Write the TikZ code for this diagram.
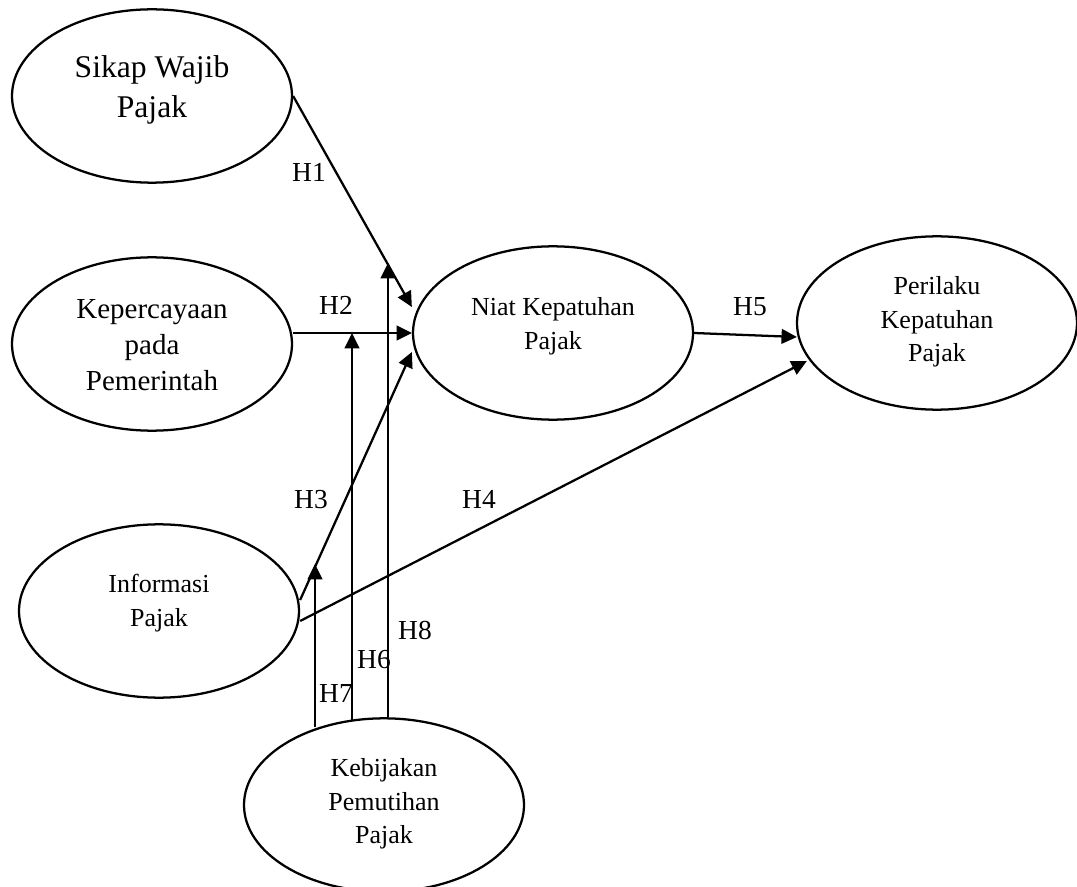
\documentclass[tikz,border=0pt]{standalone}
\usepackage{fontspec}
\setmainfont{Liberation Serif}
\usetikzlibrary{arrows.meta,shapes.geometric,calc}
\begin{document}
\begin{tikzpicture}[x=0.75pt,y=-0.75pt,
  latent/.style={draw,ellipse,line width=1.7pt,minimum width=210pt,minimum height=130pt,inner sep=0pt},
  arr/.style={line width=1.7pt,-{Triangle[length=11.5pt,width=11pt]}},
  lab/.style={font=\fontsize{20.6pt}{24pt}\selectfont,inner sep=0pt},
  txt/.style={align=center,inner sep=0pt,font=\fontsize{19.5pt}{25.2pt}\selectfont}]
\useasboundingbox (0,0) rectangle (1077,887);
% ellipses
\node[latent] (sikap) at (152,96) {};
\node[latent] (keper) at (152,344) {};
\node[latent] (info) at (159,611) {};
\node[latent] (niat) at (553,333) {};
\node[latent] (peri) at (937,323) {};
\node[latent] (kebij) at (384,805) {};
% texts
\node[txt,font=\fontsize{23.7pt}{30pt}\selectfont] (sikapT) at (152,90) {Sikap Wajib\\Pajak};
\node[txt,font=\fontsize{21.75pt}{27pt}\selectfont] (keperT) at (152,345) {Kepercayaan\\pada\\Pemerintah};
\node[txt] (infoT) at (159,603) {Informasi\\Pajak};
\node[txt] (niatT) at (553,326) {Niat Kepatuhan\\Pajak};
\node[txt] (periT) at (937,322) {Perilaku\\Kepatuhan\\Pajak};
\node[txt] (kebijT) at (384,804) {Kebijakan\\Pemutihan\\Pajak};
% main paths
\draw[arr] (sikap.east) -- ($(niat.west)+(0,-26)$);
\draw[arr] (keper.east |- niat.west) -- (niat.west);
\draw[arr] ($(info.east)+(0,-11)$) -- ($(niat.west)+(0,19)$);
\draw[arr] ($(info.east)+(0,10)$) -- ($(peri.west)+(11,38)$);
\draw[arr] (niat.east) -- ($(peri.west)+(1,14)$);
% moderation
\coordinate (m8) at (388,263);
\coordinate (m6) at (352,333);
\coordinate (m7) at (315,564);
\draw[arr] (m7 |- kebij.130) -- (m7);
\draw[arr] (m6 |- kebij.111) -- (m6);
\draw[arr] (m8 |- kebij.north) -- (m8);
% labels
\node[lab] (h1) at (309,172) {H1};
\node[lab] (h2) at (336,305) {H2};
\node[lab] (h3) at (311,500) {H3};
\node[lab] (h4) at (479,499) {H4};
\node[lab] (h5) at (750,307) {H5};
\node[lab] (h6) at (374,660) {H6};
\node[lab] (h7) at (336,694) {H7};
\node[lab] (h8) at (415,630) {H8};
\end{tikzpicture}
\end{document}
